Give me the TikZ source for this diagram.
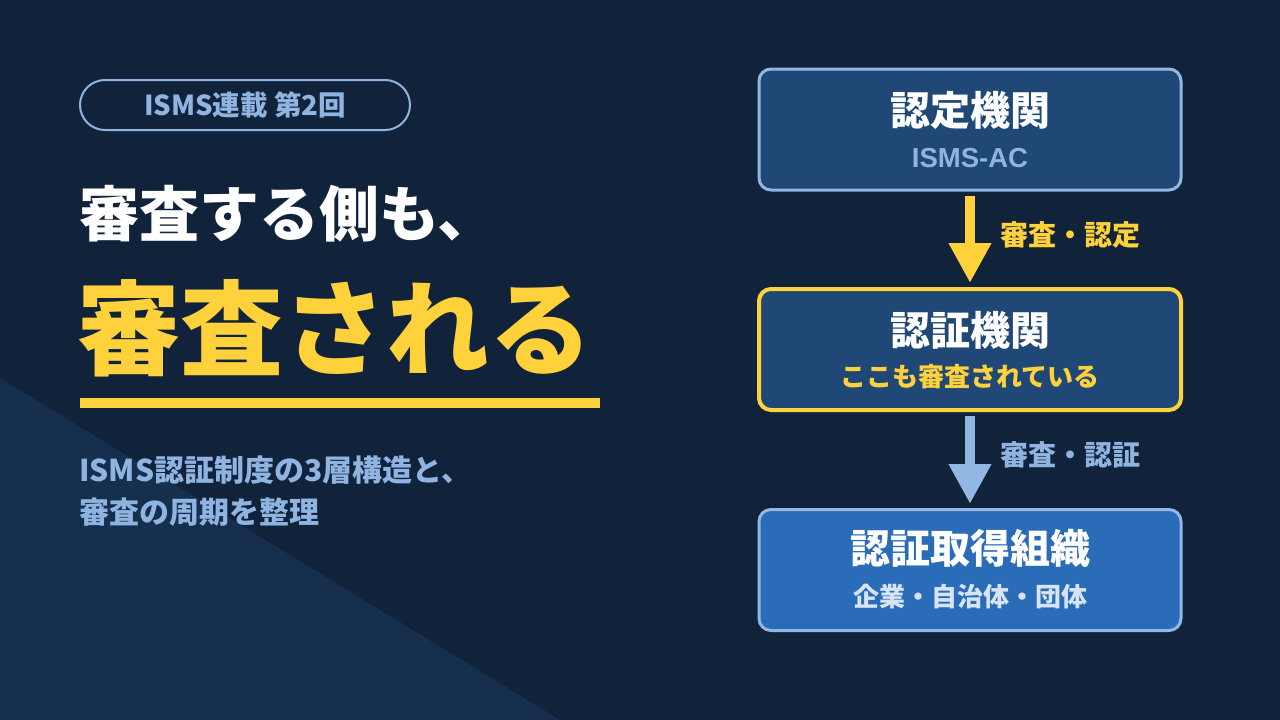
\documentclass[tikz,border=0pt]{standalone}
\usepackage{fontspec}
\setmainfont{Noto Sans CJK JP}
\newfontfamily\lat{Liberation Sans}
\usetikzlibrary{arrows.meta}
\definecolor{bgc}{HTML}{11223B}
\definecolor{tric}{HTML}{172F4E}
\definecolor{boxc}{HTML}{1F4876}
\definecolor{boxd}{HTML}{2B6CB9}
\definecolor{lblue}{HTML}{93B7E3}
\definecolor{ltxt}{HTML}{8FB4E0}
\definecolor{pale}{HTML}{D6E4F5}
\definecolor{ylw}{HTML}{FFD23C}
\tikzset{
  card/.style={rounded corners=12pt, minimum width=422pt, minimum height=121pt, inner sep=0pt},
  head/.style={font=\fontsize{40}{46}\selectfont\bfseries, text=white, inner sep=0pt},
  sub/.style={font=\fontsize{26}{30}\selectfont\bfseries, inner sep=0pt},
  bigarrow/.style={line width=10pt, -{Triangle[length=40pt,width=40pt]}, shorten <=4pt, shorten >=4pt},
  lbl/.style={font=\fontsize{28}{32}\selectfont\bfseries, anchor=west, inner sep=0pt}
}
\begin{document}
\begin{tikzpicture}[x=1pt,y=-1pt]
\fill[bgc] (0,0) rectangle (1280,720);
\useasboundingbox (0,0) rectangle (1280,720);
\fill[tric] (0,378) -- (560,720) -- (0,720) -- cycle;
% pill
\node[draw=ltxt, line width=2pt, rounded corners=25pt, minimum width=330pt, minimum height=50pt, inner sep=0pt,
  font=\fontsize{27.5}{30}\selectfont\bfseries, text=ltxt] (pill) at (245,105) {ISMS連載 第2回};
% titles
\node[anchor=west, inner sep=0pt, text=white, font=\fontsize{60}{66}\selectfont\bfseries] (t1) at (79,214) {審査する側も、};
\node[anchor=west, inner sep=0pt, text=ylw, font=\fontsize{103}{110}\selectfont\bfseries] (t2) at (77,328) {審査される};
\fill[ylw] (80,398) rectangle (600,408);
\node[anchor=west, inner sep=0pt, text=ltxt, font=\fontsize{30}{34}\selectfont\bfseries] (s1) at (79,470) {ISMS認証制度の3層構造と、};
\node[anchor=west, inner sep=0pt, text=ltxt, font=\fontsize{30}{34}\selectfont\bfseries] (s2) at (79,512) {審査の周期を整理};
% boxes
\node[card, draw=lblue, line width=3pt, fill=boxc] (b1) at (970,129.5) {};
\node[card, draw=ylw, line width=4pt, fill=boxc] (b2) at (970,349.5) {};
\node[card, draw=lblue, line width=3pt, fill=boxd] (b3) at (970,570) {};
\node[head] (h1) at (970,110) {認定機関};
\node[sub, text=ltxt, font=\lat\fontsize{27.5}{30}\selectfont\bfseries] (u1) at (970,158) {ISMS-AC};
\node[head] (h2) at (970,330) {認証機関};
\node[sub, text=ylw] (u2) at (970,377) {ここも審査されている};
\node[head] (h3) at (970,548) {認証取得組織};
\node[sub, text=pale] (u3) at (970,597) {企業・自治体・団体};
% arrows
\draw[bigarrow, draw=ylw, fill=ylw] (b1.south) -- (b2.north);
\draw[bigarrow, draw=lblue, fill=lblue] (b2.south) -- (b3.north);
\node[lbl, text=ylw] (l1) at (1000,235) {審査・認定};
\node[lbl, text=ltxt] (l2) at (1000,455) {審査・認証};
\end{tikzpicture}
\end{document}
